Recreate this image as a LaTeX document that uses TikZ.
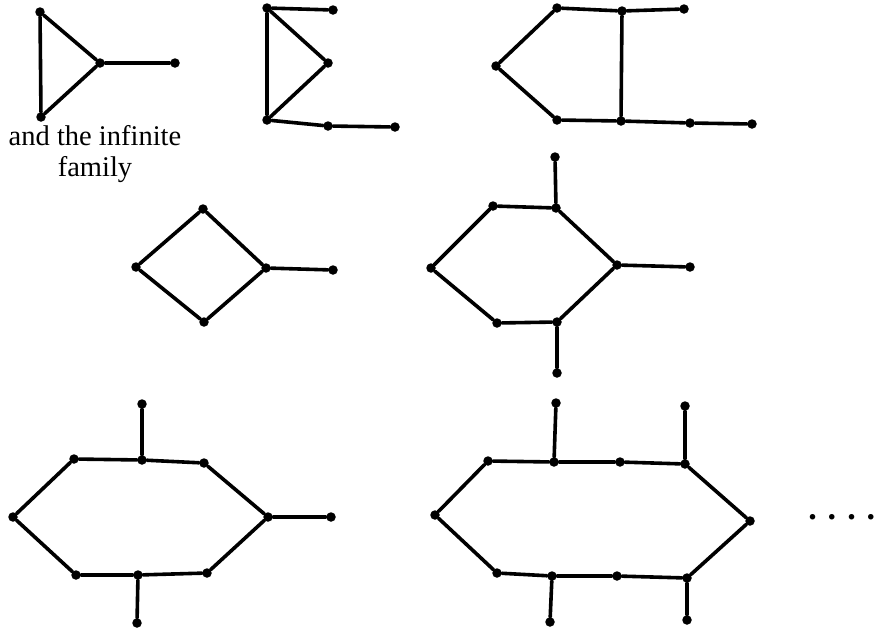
\documentclass[tikz,border=0pt]{standalone}
\usepackage{fontspec}
\setmainfont{Liberation Serif}
\begin{document}
\begin{tikzpicture}[x=1pt,y=-1pt,
  v/.style={circle,fill=black,draw=none,inner sep=0pt,minimum size=9.5pt},
  e/.style={line width=3.6pt,line cap=round,line join=round},
  lbl/.style={font=\fontsize{28.5}{31}\selectfont,align=center,inner sep=0pt}]
\useasboundingbox (0,0) rectangle (875,630);
% graph 1
\node[v] (a1) at (40,12) {};
\node[v] (a2) at (41,117) {};
\node[v] (a3) at (100,63) {};
\node[v] (a4) at (175,63) {};
\draw[e] (a1) -- (a2) (a1) -- (a3) (a2) -- (a3) (a3) -- (a4);
\node[lbl] (txt) at (95,154) {and the infinite\\family};
% graph 2
\node[v] (b1) at (267,8) {};
\node[v] (b2) at (333,10) {};
\node[v] (b3) at (328,63) {};
\node[v] (b4) at (267,120) {};
\node[v] (b5) at (328,126) {};
\node[v] (b6) at (395,127) {};
\draw[e] (b1) -- (b2) (b1) -- (b3) (b3) -- (b4) (b1) -- (b4) (b4) -- (b5) (b5) -- (b6);
% graph 3
\node[v] (c1) at (557,8) {};
\node[v] (c2) at (622,11) {};
\node[v] (c3) at (684,9) {};
\node[v] (c4) at (496,66) {};
\node[v] (c5) at (557,120) {};
\node[v] (c6) at (621,121) {};
\node[v] (c7) at (690,123) {};
\node[v] (c8) at (752,124) {};
\draw[e] (c1) -- (c2) (c2) -- (c3) (c1) -- (c4) (c4) -- (c5) (c5) -- (c6) (c6) -- (c7) (c7) -- (c8) (c2) -- (c6);
% graph 4
\node[v] (d1) at (203,209) {};
\node[v] (d2) at (136,267) {};
\node[v] (d3) at (266,268) {};
\node[v] (d4) at (204,322) {};
\node[v] (d5) at (333,270) {};
\draw[e] (d1) -- (d2) (d2) -- (d4) (d4) -- (d3) (d3) -- (d1) (d3) -- (d5);
% graph 5
\node[v] (f1) at (555,157) {};
\node[v] (f2) at (493,206) {};
\node[v] (f3) at (556,208) {};
\node[v] (f4) at (431,268) {};
\node[v] (f5) at (617,265) {};
\node[v] (f6) at (690,267) {};
\node[v] (f7) at (497,323) {};
\node[v] (f8) at (557,322) {};
\node[v] (f9) at (557,373) {};
\draw[e] (f1) -- (f3) (f2) -- (f3) (f3) -- (f5) (f2) -- (f4) (f4) -- (f7) (f7) -- (f8) (f8) -- (f5) (f5) -- (f6) (f8) -- (f9);
% graph 6
\node[v] (g1) at (142,404) {};
\node[v] (g2) at (74,459) {};
\node[v] (g3) at (142,460) {};
\node[v] (g4) at (204,463) {};
\node[v] (g5) at (13,517) {};
\node[v] (g6) at (268,517) {};
\node[v] (g7) at (331,517) {};
\node[v] (g8) at (76,575) {};
\node[v] (g9) at (138,575) {};
\node[v] (g10) at (207,573) {};
\node[v] (g11) at (137,623) {};
\draw[e] (g1) -- (g3) (g2) -- (g3) (g3) -- (g4) (g4) -- (g6) (g6) -- (g7) (g2) -- (g5) (g5) -- (g8) (g8) -- (g9) (g9) -- (g10) (g10) -- (g6) (g9) -- (g11);
% graph 7
\node[v] (h1) at (556,403) {};
\node[v] (h2) at (685,406) {};
\node[v] (h3) at (488,461) {};
\node[v] (h4) at (554,462) {};
\node[v] (h5) at (620,462) {};
\node[v] (h6) at (685,464) {};
\node[v] (h7) at (435,515) {};
\node[v] (h8) at (750,521) {};
\node[v] (h9) at (497,573) {};
\node[v] (h10) at (552,576) {};
\node[v] (h11) at (617,576) {};
\node[v] (h12) at (687,578) {};
\node[v] (h13) at (550,622) {};
\node[v] (h14) at (687,620) {};
\draw[e] (h1) -- (h4) (h2) -- (h6) (h3) -- (h4) (h4) -- (h5) (h5) -- (h6) (h6) -- (h8) (h3) -- (h7) (h7) -- (h9) (h9) -- (h10) (h10) -- (h11) (h11) -- (h12) (h12) -- (h8) (h10) -- (h13) (h12) -- (h14);
\node[lbl,font=\fontsize{34}{36}\selectfont\bfseries\itshape] (dots) at (843,517) {.\hspace{11pt}.\hspace{11pt}.\hspace{11pt}.};
\end{tikzpicture}
\end{document}
